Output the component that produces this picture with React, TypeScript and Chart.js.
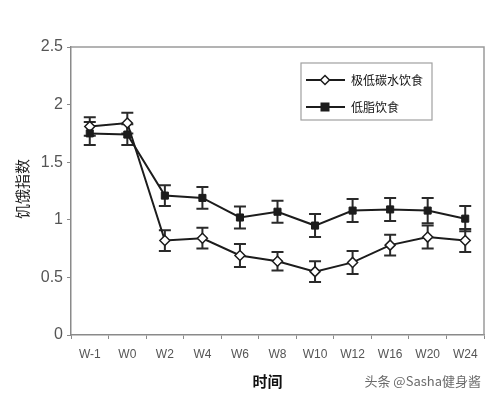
import React, { useEffect, useRef } from "react";
import { Chart, registerables } from "chart.js";

Chart.register(...registerables);

const categories = ["W-1", "W0", "W2", "W4", "W6", "W8", "W10", "W12", "W16", "W20", "W24"];
const lowCarbLabel = "极低碳水饮食";
const lowFatLabel = "低脂饮食";
const lowCarb = [1.81, 1.84, 0.82, 0.84, 0.69, 0.64, 0.55, 0.63, 0.78, 0.85, 0.82];
const lowCarbErr = [0.08, 0.09, 0.09, 0.09, 0.1, 0.08, 0.09, 0.1, 0.09, 0.1, 0.1];
const lowFat = [1.75, 1.74, 1.21, 1.19, 1.02, 1.07, 0.95, 1.08, 1.09, 1.08, 1.01];
const lowFatErr = [0.1, 0.09, 0.09, 0.095, 0.095, 0.095, 0.1, 0.1, 0.1, 0.11, 0.11];
const yTitle = "饥饿指数";
const xTitle = "时间";
const watermark = "头条 @Sasha健身酱";

const LINE = "#1c1c1c";
const FONT = "'Liberation Sans', Arial, sans-serif";

const errorBarPlugin = {
  id: "errorBars",
  beforeDatasetsDraw(chart: any) {
    const ctx = chart.ctx;
    const x = chart.scales.x;
    const y = chart.scales.y;
    const sets = [
      { v: lowCarb, e: lowCarbErr },
      { v: lowFat, e: lowFatErr },
    ];
    ctx.save();
    ctx.strokeStyle = "#2a2a2a";
    ctx.lineWidth = 2;
    sets.forEach((s) => {
      s.v.forEach((v, i) => {
        const px = x.getPixelForValue(i);
        const top = y.getPixelForValue(v + s.e[i]);
        const bot = y.getPixelForValue(v - s.e[i]);
        ctx.beginPath();
        ctx.moveTo(px, top);
        ctx.lineTo(px, bot);
        ctx.moveTo(px - 6, top);
        ctx.lineTo(px + 6, top);
        ctx.moveTo(px - 6, bot);
        ctx.lineTo(px + 6, bot);
        ctx.stroke();
      });
    });
    ctx.restore();
  },
};

const decorPlugin = {
  id: "decor",
  afterDraw(chart: any) {
    const ctx = chart.ctx;
    const a = chart.chartArea;
    ctx.save();
    ctx.strokeStyle = "#9a9a9a";
    ctx.lineWidth = 1.5;
    ctx.beginPath();
    ctx.moveTo(a.left, a.top);
    ctx.lineTo(a.right, a.top);
    ctx.lineTo(a.right, a.bottom);
    ctx.stroke();

    ctx.fillStyle = "#222";
    ctx.font = `15px 'Noto Sans CJK SC', sans-serif`;
    ctx.textAlign = "center";
    ctx.textBaseline = "middle";
    ctx.save();
    ctx.translate(22, (a.top + a.bottom) / 2 - 2);
    ctx.rotate(-Math.PI / 2);
    ctx.fillText(yTitle, 0, 0);
    ctx.restore();

    ctx.font = `bold 15px 'Noto Sans CJK SC', sans-serif`;
    ctx.fillStyle = "#111";
    ctx.fillText(xTitle, (a.left + a.right) / 2 - 10, 381);

    ctx.font = `13px 'Noto Sans CJK SC', sans-serif`;
    ctx.fillStyle = "#6a6a6a";
    ctx.textAlign = "right";
    ctx.fillText(watermark, 481, 381);

    const bx = a.left + 230;
    const by = a.top + 16;
    const bw = 131;
    const bh = 57;
    ctx.strokeStyle = "#a0a0a0";
    ctx.lineWidth = 1.2;
    ctx.strokeRect(bx, by, bw, bh);
    const rows = [
      { label: lowCarbLabel, filled: false, yy: by + 17 },
      { label: lowFatLabel, filled: true, yy: by + 44 },
    ];
    rows.forEach((r) => {
      ctx.strokeStyle = LINE;
      ctx.lineWidth = 2;
      ctx.beginPath();
      ctx.moveTo(bx + 5, r.yy);
      ctx.lineTo(bx + 44, r.yy);
      ctx.stroke();
      const cx = bx + 24;
      if (r.filled) {
        ctx.fillStyle = LINE;
        ctx.fillRect(cx - 4.5, r.yy - 4.5, 9, 9);
      } else {
        ctx.fillStyle = "#fff";
        ctx.lineWidth = 1.5;
        ctx.beginPath();
        ctx.moveTo(cx, r.yy - 4.5);
        ctx.lineTo(cx + 4.5, r.yy);
        ctx.lineTo(cx, r.yy + 4.5);
        ctx.lineTo(cx - 4.5, r.yy);
        ctx.closePath();
        ctx.fill();
        ctx.stroke();
      }
      ctx.fillStyle = "#111";
      ctx.font = `12px 'Noto Sans CJK SC', sans-serif`;
      ctx.textAlign = "left";
      ctx.textBaseline = "middle";
      ctx.fillText(r.label, bx + 50, r.yy);
    });
    ctx.restore();
  },
};

export default function App() {
  const ref = useRef<HTMLCanvasElement>(null);
  useEffect(() => {
    if (!ref.current) return;
    const chart = new Chart(ref.current, {
      type: "line",
      data: {
        labels: categories,
        datasets: [
          {
            label: lowFatLabel,
            data: lowFat,
            borderColor: LINE,
            borderWidth: 2,
            pointStyle: "rect",
            pointRadius: 5,
            pointBackgroundColor: LINE,
            pointBorderColor: LINE,
            pointBorderWidth: 1,
            tension: 0,
          },
          {
            label: lowCarbLabel,
            data: lowCarb,
            borderColor: LINE,
            borderWidth: 2,
            pointStyle: "rectRot",
            pointRadius: 5,
            pointBackgroundColor: "#fff",
            pointBorderColor: LINE,
            pointBorderWidth: 1.5,
            tension: 0,
          },
        ],
      },
      options: {
        responsive: false,
        animation: false,
        layout: { padding: { top: 47, right: 7, left: 0, bottom: 0 } },
        plugins: {
          legend: { display: false },
          tooltip: { enabled: false },
        },
        scales: {
          x: {
            offset: true,
            grid: {
              offset: true,
              drawOnChartArea: false,
              drawTicks: true,
              tickLength: 4,
              color: "#8a8a8a",
              lineWidth: 1,
            },
            border: { display: true, color: "#8a8a8a", width: 1.5 },
            ticks: {
              color: "#555",
              font: { family: FONT, size: 12 },
              padding: 8,
              maxRotation: 0,
              autoSkip: false,
            },
            afterFit(scale: any) {
              scale.height = 63;
            },
          },
          y: {
            min: 0,
            max: 2.5,
            ticks: {
              stepSize: 0.5,
              color: "#555",
              font: { family: FONT, size: 16 },
              padding: 4,
              callback: (v: any) => String(Number(v)),
            },
            grid: {
              drawOnChartArea: false,
              drawTicks: true,
              tickLength: 4,
              color: "#8a8a8a",
            },
            border: { display: true, color: "#8a8a8a", width: 1.5 },
            afterFit(scale: any) {
              scale.width = 71;
            },
          },
        },
      },
      plugins: [errorBarPlugin, decorPlugin],
    });
    return () => chart.destroy();
  }, []);
  return (
    <div style={{ position: "fixed", left: 0, top: 0, width: 491, height: 398, background: "#fff" }}>
      <canvas ref={ref} width={491} height={398} />
    </div>
  );
}
